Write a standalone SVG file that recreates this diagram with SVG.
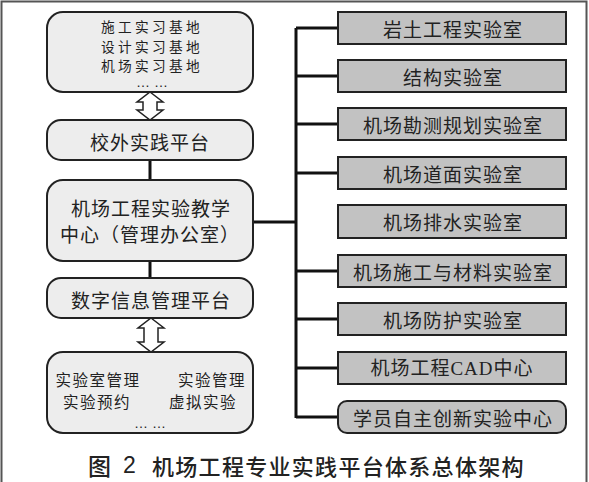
<svg xmlns="http://www.w3.org/2000/svg" width="589" height="482" viewBox="0 0 589 482">
<style>
.lbox{fill:#ededed;stroke:#222;stroke-width:2}
.rbox{fill:#c2c2c2;stroke:#222;stroke-width:2}
.t{font-family:"Noto Sans CJK SC",sans-serif;fill:#222;dominant-baseline:central;text-anchor:middle}
.s15{font-size:13.7px;letter-spacing:3.3px}
.s16{font-size:15.5px;letter-spacing:1.5px}
.s19{font-size:19px;letter-spacing:1px}
.dots{font-family:"Liberation Sans",sans-serif;font-size:14px;fill:#222;text-anchor:middle}
.ln{stroke:#111;stroke-width:3;fill:none}
.dar{fill:#fff;stroke:#222;stroke-width:1.5;stroke-linejoin:miter}
</style>
<rect x="0" y="0" width="589" height="482" fill="#fff"/>
<rect x="1.5" y="1.5" width="585" height="490" fill="none" stroke="#555" stroke-width="2"/>
<g id="connectors">
<line class="ln" x1="150" y1="160" x2="150" y2="180"/>
<line class="ln" x1="150" y1="261" x2="150" y2="278"/>
<line class="ln" x1="253" y1="222" x2="296" y2="222"/>
<line class="ln" x1="296" y1="28" x2="296" y2="418"/>
<line class="ln" x1="296" y1="28" x2="338" y2="28"/>
<line class="ln" x1="296" y1="76" x2="338" y2="76"/>
<line class="ln" x1="296" y1="124" x2="338" y2="124"/>
<line class="ln" x1="296" y1="173" x2="338" y2="173"/>
<line class="ln" x1="296" y1="271" x2="338" y2="271"/>
<line class="ln" x1="296" y1="319" x2="338" y2="319"/>
<line class="ln" x1="296" y1="368" x2="338" y2="368"/>
<line class="ln" x1="296" y1="417" x2="338" y2="417"/>
<path class="dar" d="M150,92 L163,102 L157,102 L157,110 L163,110 L150,120 L137,110 L143,110 L143,102 L137,102 Z"/>
<path class="dar" d="M151,318 L164,328 L158,328 L158,342 L164,342 L151,352 L138,342 L144,342 L144,328 L138,328 Z"/>
</g>
<g id="bases">
<rect class="lbox" x="47" y="12" width="206" height="80" rx="16"/>
<text class="t s15"><tspan x="152" y="26">施工实习基地</tspan><tspan x="152" y="45.5">设计实习基地</tspan><tspan x="152" y="65">机场实习基地</tspan></text>
<text class="dots" x="152" y="87">… …</text>
</g>
<g id="offcampus">
<rect class="lbox" x="47" y="120" width="206" height="40" rx="14"/>
<text class="t s19" x="150" y="141">校外实践平台</text>
</g>
<g id="center">
<rect class="lbox" x="47" y="180" width="206" height="81" rx="16"/>
<text class="t s19" x="151" y="207">机场工程实验教学</text>
<text class="t s19" x="150" y="233">中心（管理办公室）</text>
</g>
<g id="digital">
<rect class="lbox" x="47" y="278" width="206" height="40" rx="14"/>
<text class="t s19" x="151" y="299">数字信息管理平台</text>
</g>
<g id="functions">
<rect class="lbox" x="47" y="352" width="206" height="81" rx="16"/>
<text class="t s16" x="98" y="379">实验室管理</text>
<text class="t s16" x="212" y="379">实验管理</text>
<text class="t s16" x="97" y="401">实验预约</text>
<text class="t s16" x="203" y="401">虚拟实验</text>
<text class="dots" x="150" y="428">… …</text>
</g>
<g id="lab1"><rect class="rbox" x="338" y="12" width="228" height="32"/><text class="t s19" x="453" y="28">岩土工程实验室</text></g>
<g id="lab2"><rect class="rbox" x="338" y="60" width="228" height="32"/><text class="t s19" x="453" y="76">结构实验室</text></g>
<g id="lab3"><rect class="rbox" x="338" y="108" width="228" height="32"/><text class="t s19" x="453" y="124">机场勘测规划实验室</text></g>
<g id="lab4"><rect class="rbox" x="338" y="157" width="228" height="32"/><text class="t s19" x="453" y="173">机场道面实验室</text></g>
<g id="lab5"><rect class="rbox" x="338" y="205" width="228" height="33"/><text class="t s19" x="453" y="221">机场排水实验室</text></g>
<g id="lab6"><rect class="rbox" x="338" y="255" width="228" height="32"/><text class="t s19" x="453" y="271">机场施工与材料实验室</text></g>
<g id="lab7"><rect class="rbox" x="338" y="303" width="228" height="32"/><text class="t s19" x="453" y="319">机场防护实验室</text></g>
<g id="lab8"><rect class="rbox" x="338" y="352" width="228" height="32"/><text class="t s19" x="452" y="368" style="font-family:'Liberation Serif','Noto Sans CJK SC',serif">机场工程CAD中心</text></g>
<g id="lab9"><rect class="rbox" x="338" y="401" width="228" height="32" rx="9"/><text class="t s19" x="453" y="417">学员自主创新实验中心</text></g>
<g id="caption">
<text x="88" y="465" style="font-family:'Noto Sans CJK SC',sans-serif;font-size:23px;font-weight:500;fill:#222;dominant-baseline:central">图</text>
<text x="123" y="465" style="font-family:'Liberation Sans',sans-serif;font-size:23px;fill:#222;dominant-baseline:central">2</text>
<text x="152" y="465" style="font-family:'Noto Sans CJK SC',sans-serif;font-size:22px;font-weight:500;letter-spacing:1.3px;fill:#222;dominant-baseline:central">机场工程专业实践平台体系总体架构</text>
</g>
</svg>
